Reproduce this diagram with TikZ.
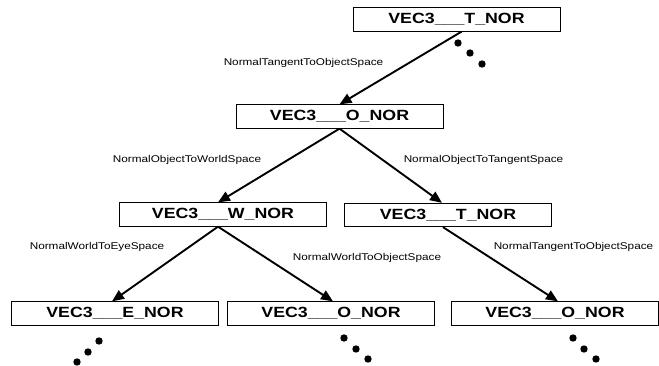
\documentclass[tikz,border=0pt]{standalone}
\usepackage{fontspec}
\setmainfont{Liberation Sans}
\newfontfamily\boxfont[FakeStretch=1.2]{Liberation Sans}
\usetikzlibrary{arrows.meta}
\tikzset{
  vbox/.style={draw=black, line width=0.8pt, minimum width=207pt, minimum height=23.5pt, inner sep=0pt,
    font=\boxfont\bfseries\fontsize{14.8}{16}\selectfont},
  lab/.style={inner sep=0pt, font=\boxfont\fontsize{9.8}{11}\selectfont},
  conn/.style={line width=1.9pt, -{Triangle[length=12pt,width=10pt]}},
  dot/.style={circle, fill=black, inner sep=0pt, minimum size=7.4pt}
}
\begin{document}
\begin{tikzpicture}[x=1pt,y=-1pt]
\useasboundingbox (0,0) rectangle (659,366);
\node[vbox] (t0) at (456.5,19.5) {VEC3\_\_\_T\_NOR};
\node[vbox] (o1) at (339.5,116.5) {VEC3\_\_\_O\_NOR};
\node[vbox] (w2) at (223,214.5) {VEC3\_\_\_W\_NOR};
\node[vbox] (t2) at (448,215) {VEC3\_\_\_T\_NOR};
\node[vbox] (e3) at (115,313.5) {VEC3\_\_\_E\_NOR};
\node[vbox] (o3a) at (331,313.5) {VEC3\_\_\_O\_NOR};
\node[vbox] (o3b) at (555,313.5) {VEC3\_\_\_O\_NOR};

\draw[conn] ([xshift=5pt]t0.south) -- (o1.north);
\draw[conn] (o1.south) -- ([xshift=-5pt]w2.north);
\draw[conn] (o1.south) -- ([xshift=-6pt]t2.north);
\draw[conn] ([xshift=-5pt]w2.south) -- ([xshift=-3pt]e3.north);
\draw[conn] ([xshift=-5pt]w2.south) -- ([xshift=2pt]o3a.north);
\draw[conn] ([xshift=-5pt]t2.south) -- ([xshift=3pt]o3b.north);

\node[lab] (l1) at (303.5,63) {NormalTangentToObjectSpace};
\node[lab] (l2) at (187,160) {NormalObjectToWorldSpace};
\node[lab] (l3) at (483.5,160) {NormalObjectToTangentSpace};
\node[lab] (l4) at (97,247) {NormalWorldToEyeSpace};
\node[lab] (l5) at (367,258) {NormalWorldToObjectSpace};
\node[lab] (l6) at (573.5,247) {NormalTangentToObjectSpace};

\node[dot] (d1) at (458,43) {};
\node[dot] (d2) at (470,53) {};
\node[dot] (d3) at (482,64) {};
\node[dot] (d4) at (99,341) {};
\node[dot] (d5) at (88,352) {};
\node[dot] (d6) at (77,362) {};
\node[dot] (d7) at (344,338) {};
\node[dot] (d8) at (356,349) {};
\node[dot] (d9) at (368,359) {};
\node[dot] (d10) at (573,338) {};
\node[dot] (d11) at (584,349) {};
\node[dot] (d12) at (596,359) {};
\end{tikzpicture}
\end{document}
